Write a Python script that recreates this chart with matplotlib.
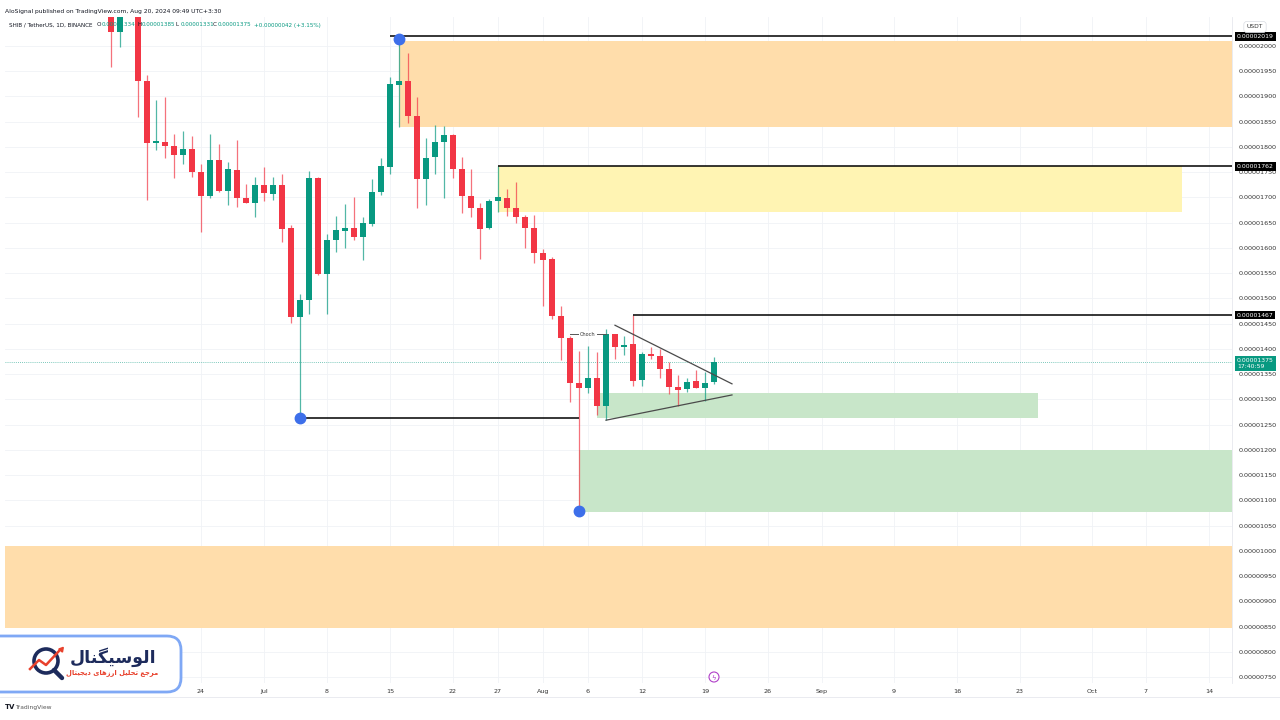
import numpy as np
import pandas as pd
import matplotlib
matplotlib.use("Agg")
import matplotlib.pyplot as plt
import matplotlib.dates as mdates
from matplotlib.patches import Rectangle, FancyBboxPatch, Circle

# prices are in units of 1e-8 USDT
dates = pd.date_range("2024-06-14", "2024-08-20", freq="D")
opens = [2085, 2028, 2072, 2075, 1931, 1807, 1809, 1802, 1785, 1797, 1751, 1703, 1774, 1713,
         1755, 1698, 1690, 1725, 1707, 1725, 1639, 1463, 1497, 1739, 1549, 1616, 1634, 1639,
         1621, 1647, 1710, 1761, 1923, 1931, 1861, 1737, 1780, 1809, 1824, 1756, 1702, 1679,
         1639, 1694, 1698, 1679, 1661, 1639, 1591, 1578, 1465, 1422, 1333, 1322, 1343, 1287,
         1429, 1403, 1409, 1339, 1390, 1386, 1360, 1325, 1321, 1337, 1322, 1334]
highs = [2095, 2080, 2110, 2085, 1943, 1893, 1898, 1826, 1832, 1822, 1766, 1825, 1806, 1771,
         1814, 1726, 1741, 1760, 1741, 1746, 1645, 1508, 1753, 1741, 1628, 1663, 1687, 1700,
         1662, 1736, 1778, 1938, 2014, 1986, 1898, 1817, 1844, 1842, 1826, 1780, 1756, 1690,
         1697, 1762, 1716, 1731, 1666, 1665, 1598, 1583, 1485, 1425, 1396, 1406, 1394, 1439,
         1430, 1426, 1467, 1395, 1403, 1400, 1375, 1349, 1342, 1358, 1355, 1385]
lows = [1958, 1998, 2062, 1859, 1696, 1795, 1779, 1738, 1766, 1741, 1632, 1698, 1710, 1686,
        1681, 1689, 1661, 1694, 1696, 1612, 1452, 1263, 1469, 1547, 1470, 1593, 1599, 1615,
        1576, 1644, 1705, 1747, 1839, 1848, 1680, 1686, 1747, 1698, 1738, 1669, 1662, 1579,
        1637, 1672, 1664, 1649, 1599, 1570, 1485, 1459, 1378, 1296, 1080, 1312, 1269, 1259,
        1380, 1388, 1327, 1326, 1380, 1342, 1310, 1288, 1315, 1322, 1298, 1331]
closes = [2028, 2072, 2095, 1931, 1808, 1811, 1802, 1785, 1797, 1751, 1703, 1774, 1713, 1757,
          1698, 1690, 1725, 1708, 1725, 1638, 1463, 1497, 1738, 1549, 1616, 1636, 1639, 1621,
          1649, 1710, 1762, 1925, 1931, 1861, 1737, 1778, 1809, 1824, 1756, 1702, 1679, 1638,
          1694, 1700, 1680, 1661, 1640, 1591, 1577, 1465, 1422, 1333, 1322, 1343, 1287, 1429,
          1403, 1408, 1337, 1390, 1387, 1360, 1325, 1319, 1335, 1322, 1332, 1375]

# drawn zones
zone_start = ["2024-07-16", "2024-07-27", "2024-08-07", "2024-08-05", None]
zone_end = [None, "2024-10-11", "2024-09-25", None, None]
zone_lo = [1840, 1672, 1264, 1078, 847]
zone_hi = [2010, 1762, 1312, 1200, 1010]
zone_colors = ["#FFDDAB", "#FFF4B3", "#C8E6C9", "#C8E6C9", "#FFDDAB"]

# horizontal levels
level_price = [2019, 1762, 1467, 1263]
level_start = ["2024-07-15", "2024-07-27", "2024-08-11", "2024-07-05"]
level_end = [None, None, None, "2024-08-05"]
level_tags = ["0.00002019", "0.00001762", "0.00001467", None]

# swing points (blue dots)
dot_dates = ["2024-07-05", "2024-07-16", "2024-08-05"]
dot_price = [1263, 2014, 1080]

# triangle trend lines
tri_dates = [("2024-08-09", "2024-08-22"), ("2024-08-08", "2024-08-22")]
tri_price = [(1447, 1331), (1259, 1309)]

choch_dates = ("2024-08-04", "2024-08-08")
choch_price = 1429
last_price = 1375

tick_dates = ["2024-06-24", "2024-07-01", "2024-07-08", "2024-07-15", "2024-07-22", "2024-07-27",
              "2024-08-01", "2024-08-06", "2024-08-12", "2024-08-19", "2024-08-26", "2024-09-01",
              "2024-09-09", "2024-09-16", "2024-09-23", "2024-10-01", "2024-10-07", "2024-10-14"]
tick_labels = ["24", "Jul", "8", "15", "22", "27", "Aug", "6", "12", "19", "26", "Sep",
               "9", "16", "23", "Oct", "7", "14"]

GREEN = "#089981"
RED = "#F23645"
TEXT = "#131722"


def dn(d):
    return mdates.date2num(pd.Timestamp(d))


# tiny persian shaper: matplotlib has no arabic shaping, so pick presentation forms
FORMS = {
    "ا": ("\uFE8D", "\uFE8E", None, None), "ل": ("\uFEDD", "\uFEDE", "\uFEDF", "\uFEE0"),
    "و": ("\uFEED", "\uFEEE", None, None), "س": ("\uFEB1", "\uFEB2", "\uFEB3", "\uFEB4"),
    "ی": ("\uFBFC", "\uFBFD", "\uFBFE", "\uFBFF"), "گ": ("\uFB92", "\uFB93", "\uFB94", "\uFB95"),
    "ن": ("\uFEE5", "\uFEE6", "\uFEE7", "\uFEE8"), "م": ("\uFEE1", "\uFEE2", "\uFEE3", "\uFEE4"),
    "ر": ("\uFEAD", "\uFEAE", None, None), "ج": ("\uFE9D", "\uFE9E", "\uFE9F", "\uFEA0"),
    "ع": ("\uFEC9", "\uFECA", "\uFECB", "\uFECC"), "ت": ("\uFE95", "\uFE96", "\uFE97", "\uFE98"),
    "ح": ("\uFEA1", "\uFEA2", "\uFEA3", "\uFEA4"), "ز": ("\uFEAF", "\uFEB0", None, None),
    "ه": ("\uFEE9", "\uFEEA", "\uFEEB", "\uFEEC"), "د": ("\uFEA9", "\uFEAA", None, None),
}


def shape_fa(text):
    out = []
    for i, ch in enumerate(text):
        if ch not in FORMS:
            out.append(ch)
            continue
        iso, fin, ini, med = FORMS[ch]
        prev = text[i - 1] if i > 0 else ""
        nxt = text[i + 1] if i + 1 < len(text) else ""
        jp = prev in FORMS and FORMS[prev][2] is not None
        jn = nxt in FORMS and ini is not None
        out.append(med if (jp and jn) else fin if jp else ini if jn else iso)
    return "".join(reversed(out))


plt.rcParams["font.family"] = ["DejaVu Sans"]
fig = plt.figure(figsize=(12.8, 7.2), dpi=100)
ax = fig.add_axes([5 / 1280, 1 - 683 / 720, 1227 / 1280, 666 / 720])

x0 = dn("2024-07-01")
xmin, xmax = x0 - 28.78, x0 + 107.56
ax.set_xlim(xmin, xmax)
ax.set_ylim(738.6, 2057.4)

# zones
for s, e, lo, hi, c in zip(zone_start, zone_end, zone_lo, zone_hi, zone_colors):
    xs = xmin if s is None else dn(s)
    xe = xmax if e is None else dn(e)
    ax.add_patch(Rectangle((xs, lo), xe - xs, hi - lo, fc=c, ec="none", zorder=1))

# candles
x = mdates.date2num(dates)
o, h, l, c = map(np.array, (opens, highs, lows, closes))
cols = np.where(c >= o, GREEN, RED)
ax.vlines(x, l, h, colors=cols, lw=0.9, alpha=0.7, zorder=3)
ax.bar(x, np.maximum(np.abs(c - o), 2.0), bottom=np.minimum(o, c), width=0.74,
       color=cols, zorder=4)

# levels
for p, s, e in zip(level_price, level_start, level_end):
    xe = xmax if e is None else dn(e)
    ax.plot([dn(s), xe], [p, p], color="#000000", lw=1.1, zorder=5, solid_capstyle="butt")

for (s, e), (p1, p2) in zip(tri_dates, tri_price):
    ax.plot([dn(s), dn(e)], [p1, p2], color="#4A4A4A", lw=0.9, zorder=5)

ax.plot([dn(choch_dates[0]), dn(choch_dates[1])], [choch_price, choch_price],
        color="#555555", lw=0.7, zorder=5)
ax.text((dn(choch_dates[0]) + dn(choch_dates[1])) / 2, choch_price, "Choch", fontsize=3.6,
        color="#333333", ha="center", va="center", zorder=6,
        bbox=dict(fc="white", ec="none", pad=0.6))

ax.axhline(last_price, color=GREEN, lw=0.6, ls=(0, (1, 1.5)), alpha=0.7, zorder=2)

ax.plot([dn(d) for d in dot_dates], dot_price, "o", ms=7.5, color="#3D6FEA",
        mec="#3D6FEA", zorder=7)

# axes styling
ax.set_xticks([dn(d) for d in tick_dates])
ax.set_xticklabels(tick_labels)
yt = np.arange(750, 2001, 50)
ax.set_yticks(yt)
ax.set_yticklabels([f"{v / 1e8:.8f}" for v in yt])
ax.yaxis.tick_right()
ax.tick_params(axis="y", length=0, pad=5, labelsize=4.6, labelcolor="#333333")
ax.tick_params(axis="x", length=0, pad=4, labelsize=4.6, labelcolor="#333333")
ax.grid(color="#F0F2F6", lw=0.6, zorder=0)
ax.set_axisbelow(True)
for sp in ("left", "top", "bottom"):
    ax.spines[sp].set_visible(False)
ax.spines["right"].set_color("#E6E8EE")
ax.spines["right"].set_linewidth(0.6)

# price tags on the axis
for p, t in zip(level_price, level_tags):
    if t:
        ax.text(1.004, p, t, transform=ax.get_yaxis_transform(), fontsize=4.4, color="white",
                ha="left", va="center", zorder=10, clip_on=False,
                bbox=dict(boxstyle="square,pad=0.3", fc="#000000", ec="none"))
ax.text(1.004, last_price - 3, f"{last_price / 1e8:.8f}\n17:40:59",
        transform=ax.get_yaxis_transform(), fontsize=4.4, color="white", ha="left",
        va="center", linespacing=1.3, zorder=10, clip_on=False,
        bbox=dict(boxstyle="square,pad=0.3", fc=GREEN, ec="none"))

# overlay in pixel coordinates for header, logo and footer
ov = fig.add_axes([0, 0, 1, 1], zorder=20)
ov.set_xlim(0, 1280)
ov.set_ylim(720, 0)
ov.axis("off")

ov.text(5, 11, "AloSignal published on TradingView.com, Aug 20, 2024 09:49 UTC+3:30",
        fontsize=4.3, color=TEXT, va="center")
ov.text(9, 25, "SHIB / TetherUS, 1D, BINANCE", fontsize=4.1, color=TEXT, va="center")
for xp, lab, val in [(97, "O", "0.00001334"), (137, "H", "0.00001385"),
                     (176, "L", "0.00001331"), (213, "C", "0.00001375")]:
    ov.text(xp, 25, lab, fontsize=4.1, color=TEXT, va="center")
    ov.text(xp + 4.5, 25, val, fontsize=4.1, color=GREEN, va="center")
ov.text(254, 25, "+0.00000042 (+3.15%)", fontsize=4.1, color=GREEN, va="center")

ov.text(1255, 27, "USDT", fontsize=4.3, color="#333333", ha="center", va="center",
        bbox=dict(boxstyle="round,pad=0.5", fc="white", ec="#D8DBE2", lw=0.5))
ov.plot([0, 1280], [697, 697], color="#E6E8EE", lw=0.6)

# lightning marker on the time axis
ov.add_patch(Circle((714, 677), 5, fc="white", ec="#B040C8", lw=0.8))
ov.text(714, 677.5, "ϟ", fontsize=5, color="#B040C8", ha="center", va="center")

# logo box
ov.add_patch(FancyBboxPatch((-20, 636), 201, 56, boxstyle="round,pad=0,rounding_size=14",
                            fc="white", ec="#7FA8F5", lw=2.0))
ov.add_patch(Circle((46, 661), 12, fc="white", ec="#1D2B5C", lw=2.6))
ov.plot([54, 62], [670, 678], color="#1D2B5C", lw=3.2, solid_capstyle="round")
ov.plot([30, 39, 46, 59], [669, 660, 665, 651], color="#E8412C", lw=1.8)
ov.plot([61], [649], marker=(3, 0, -40), ms=4, color="#E8412C")
ov.text(113, 657, shape_fa("الوسیگنال"), fontsize=12.5, fontweight="bold",
        color="#1D2B5C", ha="center", va="center")
ov.text(112, 673, shape_fa("مرجع تحلیل ارزهای دیجیتال"), fontsize=4.9, fontweight="bold",
        color="#E8412C", ha="center", va="center")

ov.text(5, 707, "TV", fontsize=5, fontweight="bold", color=TEXT, va="center")
ov.text(15, 707, "TradingView", fontsize=4.3, color="#555555", va="center")

fig.savefig("out.png", dpi=100, facecolor="white")
